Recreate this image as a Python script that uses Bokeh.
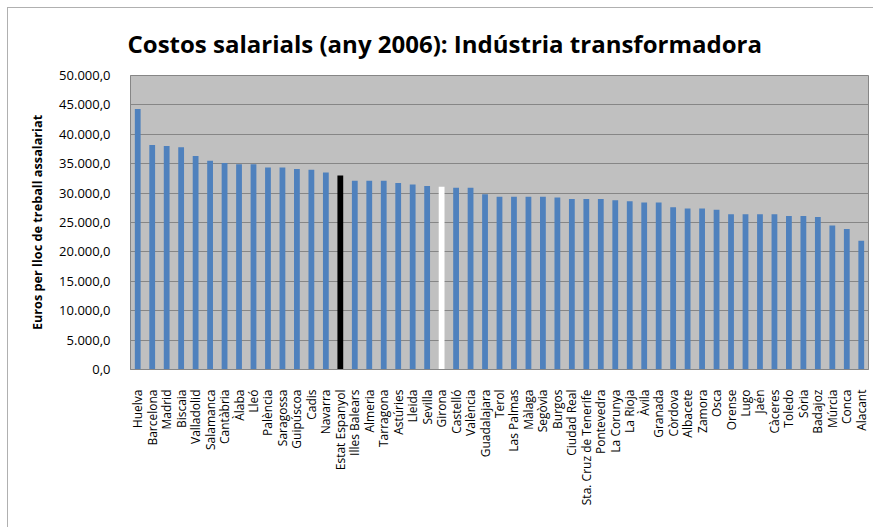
from bokeh.plotting import figure
from bokeh.models import ColumnDataSource, FactorRange, CustomJSTickFormatter, FixedTicker
from bokeh.embed import file_html
from bokeh.resources import INLINE
import math

provinces = ["Huelva", "Barcelona", "Madrid", "Biscaia", "Valladolid", "Salamanca", "Cantàbria",
             "Àlaba", "Lleó", "Palència", "Saragossa", "Guipúscoa", "Cadis", "Navarra",
             "Estat Espanyol", "Illes Balears", "Almeria", "Tarragona", "Astúries", "Lleida",
             "Sevilla", "Girona", "Castelló", "València", "Guadalajara", "Terol", "Las Palmas",
             "Màlaga", "Segòvia", "Burgos", "Ciudad Real", "Sta. Cruz de Tenerife", "Pontevedra",
             "La Corunya", "La Rioja", "Àvila", "Granada", "Còrdova", "Albacete", "Zamora",
             "Osca", "Orense", "Lugo", "Jaén", "Càceres", "Toledo", "Sòria", "Badajoz",
             "Múrcia", "Conca", "Alacant"]

costs = [44300, 38200, 38000, 37800, 36300, 35500, 35100,
         34900, 34900, 34350, 34350, 34100, 33950, 33500,
         33000, 32100, 32100, 32100, 31700, 31450,
         31200, 31100, 30900, 30900, 29800, 29400, 29400,
         29400, 29400, 29250, 29000, 29000, 29000,
         28800, 28600, 28400, 28400, 27600, 27400, 27400,
         27150, 26400, 26400, 26400, 26400, 26100, 26100, 25950,
         24500, 23900, 21900]

y_ticks = [0, 5000, 10000, 15000, 20000, 25000, 30000, 35000, 40000, 45000, 50000]

chart_title = "Costos salarials (any 2006): Indústria transformadora"

colors = []
for name in provinces:
    if name == "Estat Espanyol":
        colors.append("#000000")
    elif name == "Girona":
        colors.append("#ffffff")
    else:
        colors.append("#4f81bd")

src = ColumnDataSource(dict(x=provinces, y=costs, c=colors))

p = figure(width=866, height=520, output_backend="svg", toolbar_location=None,
           x_range=FactorRange(factors=provinces, range_padding=0),
           y_range=(0, 50000),
           title=chart_title,
           min_border_left=122, min_border_right=6, min_border_top=67, min_border_bottom=159)
p.styles = {"margin-left": "7px", "margin-top": "7px",
            "border-left": "1px solid #b0b0b0", "border-top": "1px solid #b0b0b0"}

p.title.align = "left"
p.title.offset = -3
p.title.vertical_align = "bottom"
p.title.standoff = 32
p.title.text_font = "Open Sans"
p.title.text_font_style = "bold"
p.title.text_font_size = "24px"
p.title.text_color = "#000000"

p.vbar(x="x", top="y", width=0.4, fill_color="c", line_color=None, source=src)

p.background_fill_color = "#c0c0c0"
p.border_fill_color = "#ffffff"
p.outline_line_color = "#868686"
p.outline_line_width = 1

p.xgrid.grid_line_color = None
p.ygrid.grid_line_color = "#868686"
p.ygrid.grid_line_width = 1
p.ygrid.ticker = FixedTicker(ticks=y_ticks)

p.yaxis.ticker = FixedTicker(ticks=y_ticks)
p.yaxis.formatter = CustomJSTickFormatter(code="""
var s = tick.toFixed(1).replace('.', ',');
return s.replace(/\\B(?=(\\d{3})+(?!\\d))/g, '.');
""")
p.yaxis.major_tick_line_color = None
p.yaxis.minor_tick_line_color = None
p.yaxis.axis_line_color = "#868686"
p.yaxis.major_label_text_font = "Open Sans"
p.yaxis.major_label_text_font_size = "13px"
p.yaxis.major_label_text_color = "#000000"
p.yaxis.major_label_standoff = 14
p.yaxis.axis_label = "Euros per lloc de treball assalariat"
p.yaxis.axis_label_text_font = "Open Sans"
p.yaxis.axis_label_text_font_style = "bold"
p.yaxis.axis_label_text_font_size = "12.7px"
p.yaxis.axis_label_text_color = "#000000"
p.yaxis.axis_label_standoff = 10

p.xaxis.major_label_orientation = math.pi / 2
p.xaxis.major_tick_line_color = None
p.xaxis.minor_tick_line_color = None
p.xaxis.axis_line_color = "#868686"
p.xaxis.major_label_text_font = "Open Sans"
p.xaxis.major_label_text_font_size = "12px"
p.xaxis.major_label_text_color = "#000000"
p.xaxis.major_label_standoff = 14

open("out.html", "w").write(file_html(p, INLINE))
